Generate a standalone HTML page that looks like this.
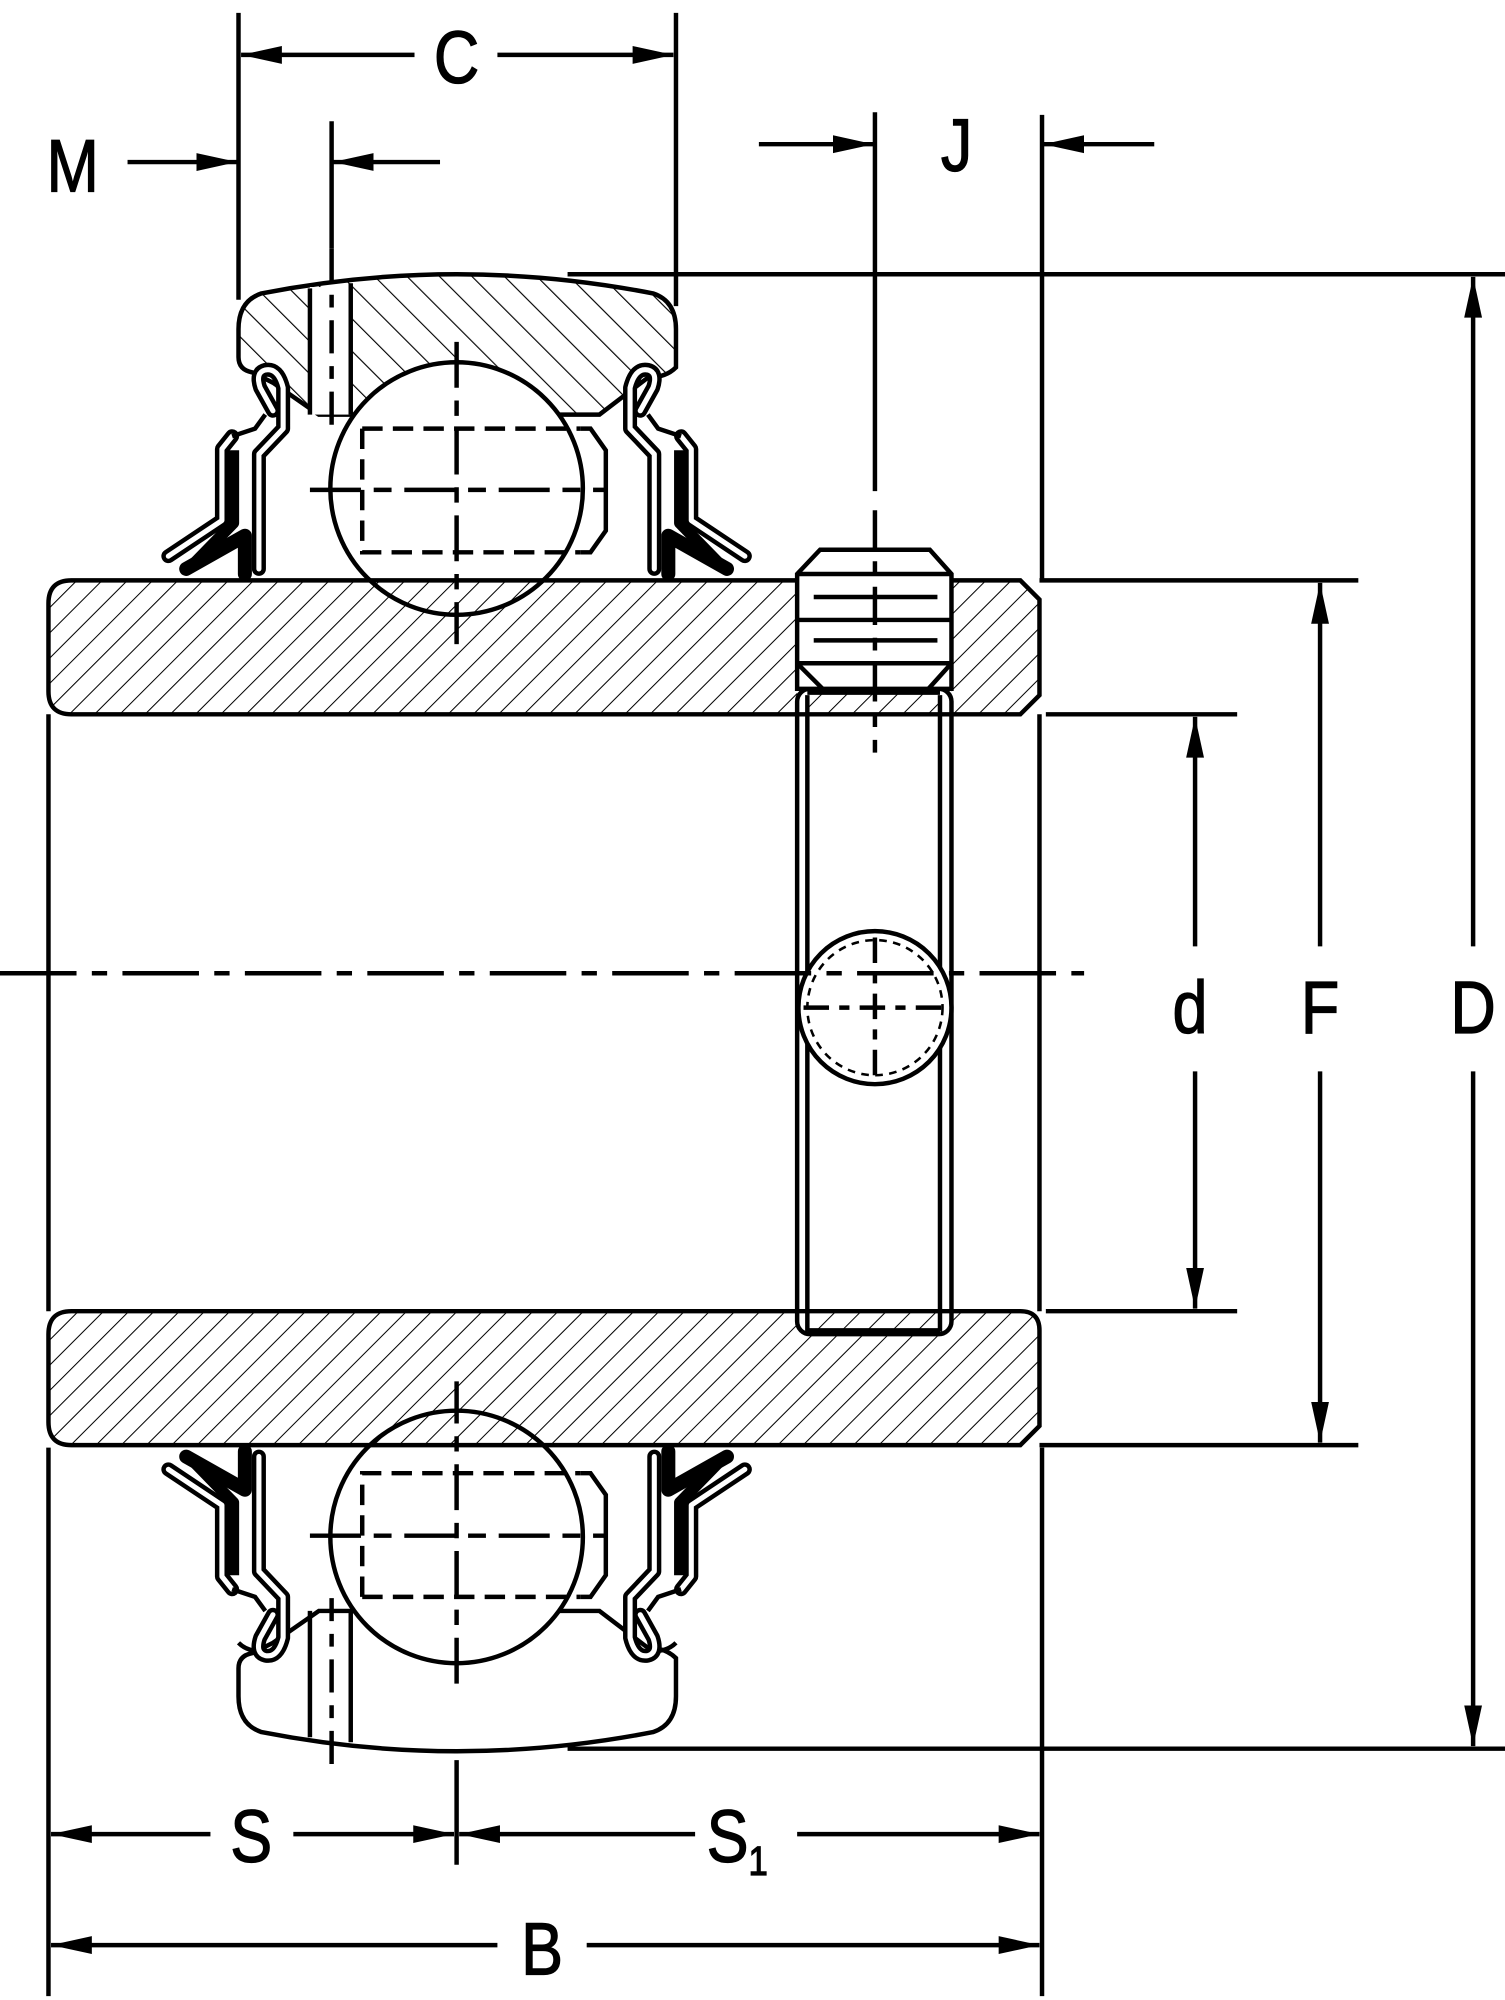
<!DOCTYPE html>
<html><head><meta charset="utf-8"><style>html,body{margin:0;padding:0;background:#fff}svg{display:block}</style></head>
<body>
<svg width="1505" height="2000" viewBox="0 0 1180 1568" xmlns="http://www.w3.org/2000/svg" font-family="Liberation Sans, sans-serif">
<defs>
<pattern id="h1" width="14" height="14" patternUnits="userSpaceOnUse" patternTransform="rotate(45)"><line x1="0" y1="0" x2="0" y2="14" stroke="#000" stroke-width="1.6"/></pattern>
<pattern id="h2" width="18" height="18" patternUnits="userSpaceOnUse" patternTransform="rotate(-45)"><line x1="0" y1="0" x2="0" y2="18" stroke="#000" stroke-width="1.8"/></pattern>
<marker id="ae" markerUnits="userSpaceOnUse" markerWidth="34" markerHeight="16" refX="32" refY="8" orient="auto"><path d="M0,1 L32,8 L0,15 Z" fill="#000"/></marker>
<marker id="as" markerUnits="userSpaceOnUse" markerWidth="34" markerHeight="16" refX="0" refY="8" orient="auto"><path d="M32,1 L0,8 L32,15 Z" fill="#000"/></marker>
<g id="seal">
  <path d="M192,450 L192,420 L146,446" fill="none" stroke="#000" stroke-width="11" stroke-linecap="round" stroke-linejoin="round"/>
  <path d="M182,342 L174,352 L174,408 L132,436" fill="none" stroke="#000" stroke-width="11" stroke-linecap="round" stroke-linejoin="round"/>
  <path d="M182,342 L174,352 L174,408 L132,436" fill="none" stroke="#fff" stroke-width="4" stroke-linecap="round" stroke-linejoin="round"/>
  <path d="M183,353 L183,410 L148,446" fill="none" stroke="#000" stroke-width="9" stroke-linejoin="round"/>
  <path d="M203,446 L203,356 L222,336 L222,304 Q218,288 208,290 Q200,292 204,304 L214,322" fill="none" stroke="#000" stroke-width="11" stroke-linecap="round" stroke-linejoin="round"/>
  <path d="M203,446 L203,356 L222,336 L222,304 Q218,288 208,290 Q200,292 204,304 L214,322" fill="none" stroke="#fff" stroke-width="4" stroke-linecap="round" stroke-linejoin="round"/>
  <path d="M182,342 L200,336 L208,325" fill="none" stroke="#000" stroke-width="3.5"/>
</g>
<g id="ballset">
  <circle cx="358" cy="383" r="99" fill="#fff" stroke="#000" stroke-width="3.5"/>
  <path d="M455,336 L463,336 L475,353 L475,416 L463,433 L455,433" fill="none" stroke="#000" stroke-width="3.5"/>
  <path d="M284,336 L455,336 M284,336 L284,433 L455,433" fill="none" stroke="#000" stroke-width="3.5" stroke-dasharray="16,8"/>
  <line x1="243" y1="384" x2="475" y2="384" stroke="#000" stroke-width="3.5" stroke-dasharray="40,10,14,10"/>
  <line x1="358" y1="268" x2="358" y2="505" stroke="#000" stroke-width="3.5" stroke-dasharray="36,10,12,10"/>
</g>
</defs>

<g transform="translate(0,0)">
<path d="M187,258 Q187,236 205,230 Q358,200 512,230 Q530,236 530,258 L530,288 Q522,296 508,296 L470,325 L250,325 L214,300 L198,292 Q187,290 187,280 Z" fill="url(#h2)" stroke="#000" stroke-width="3.5"/>
<rect x="243" y="225" width="32" height="100" fill="#fff"/>
<line x1="243" y1="226" x2="243" y2="325" stroke="#000" stroke-width="3.5"/>
<line x1="275" y1="222" x2="275" y2="325" stroke="#000" stroke-width="3.5"/>
<line x1="260" y1="195" x2="260" y2="335" stroke="#000" stroke-width="3.5" stroke-dasharray="26,10,10,10"/>
<use href="#ballset"/>
<use href="#seal"/>
<use href="#seal" transform="translate(716,0) scale(-1,1)"/>
</g>

<g transform="translate(0,1588) scale(1,-1)">
<path d="M187,258 Q187,236 205,230 Q358,200 512,230 Q530,236 530,258 L530,288 Q522,296 508,296 L470,325 L250,325 L214,300 L198,292 Q187,290 187,280 Z" fill="#fff" stroke="#000" stroke-width="3.5"/>
<path d="M187,300 Q195,292 208,294 M530,300 Q522,292 508,294" fill="none" stroke="#000" stroke-width="3.5"/>
<line x1="243" y1="226" x2="243" y2="325" stroke="#000" stroke-width="3.5"/>
<line x1="275" y1="222" x2="275" y2="325" stroke="#000" stroke-width="3.5"/>
<line x1="260" y1="205" x2="260" y2="335" stroke="#000" stroke-width="3.5" stroke-dasharray="26,10,10,10"/>
<use href="#ballset"/>
<use href="#seal"/>
<use href="#seal" transform="translate(716,0) scale(-1,1)"/>
</g>

<path d="M56,455 L800,455 L815,470 L815,545 L800,560 L56,560 Q38,560 38,542 L38,473 Q38,455 56,455 Z" fill="url(#h1)" stroke="#000" stroke-width="3.5"/>
<path d="M56,1028 L800,1028 Q815,1028 815,1043 L815,1118 L800,1133 L56,1133 Q38,1133 38,1115 L38,1046 Q38,1028 56,1028 Z" fill="url(#h1)" stroke="#000" stroke-width="3.5"/>
<line x1="38" y1="560" x2="38" y2="1028" stroke="#000" stroke-width="3.5"/>
<line x1="815" y1="560" x2="815" y2="1028" stroke="#000" stroke-width="3.5"/>

<rect x="625" y="452" width="121" height="108" fill="#fff"/>
<rect x="625" y="540" width="121" height="506" rx="10" fill="#fff" stroke="#000" stroke-width="3.5"/>
<rect x="633" y="542" width="104" height="18" fill="url(#h1)"/>
<rect x="633" y="1028" width="104" height="16" fill="url(#h1)"/>
<line x1="625" y1="560" x2="746" y2="560" stroke="#000" stroke-width="3.5"/>
<line x1="625" y1="1028" x2="746" y2="1028" stroke="#000" stroke-width="3.5"/>
<line x1="633" y1="545" x2="633" y2="1044" stroke="#000" stroke-width="3.5"/>
<line x1="737" y1="545" x2="737" y2="1044" stroke="#000" stroke-width="3.5"/>
<line x1="633" y1="543" x2="737" y2="543" stroke="#000" stroke-width="3.5"/>
<line x1="633" y1="1043" x2="737" y2="1043" stroke="#000" stroke-width="3.5"/>
<path d="M625,450 L643,431 L729,431 L746,450 L746,540 L625,540 Z" fill="#fff" stroke="#000" stroke-width="3.5"/>
<line x1="625" y1="450" x2="746" y2="450" stroke="#000" stroke-width="3.5"/>
<line x1="625" y1="486" x2="746" y2="486" stroke="#000" stroke-width="3.5"/>
<line x1="625" y1="520" x2="746" y2="520" stroke="#000" stroke-width="3.5"/>
<line x1="638" y1="468" x2="735" y2="468" stroke="#000" stroke-width="3.5"/>
<line x1="638" y1="502" x2="735" y2="502" stroke="#000" stroke-width="3.5"/>
<path d="M625,520 L646,541 M746,520 L727,541" stroke="#000" stroke-width="3.5"/>
<circle cx="686" cy="790" r="60" fill="#fff" stroke="#000" stroke-width="3.5"/>
<circle cx="686" cy="790" r="53" fill="none" stroke="#000" stroke-width="2" stroke-dasharray="6,5"/>
<line x1="686" y1="735" x2="686" y2="845" stroke="#000" stroke-width="3.5" stroke-dasharray="20,8,8,8"/>
<line x1="630" y1="790" x2="742" y2="790" stroke="#000" stroke-width="3.5" stroke-dasharray="20,8,8,8"/>

<line x1="0" y1="763" x2="850" y2="763" stroke="#000" stroke-width="3.5" stroke-dasharray="60,12,12,12"/>

<g stroke="#000" stroke-width="3.5" fill="none">
<line x1="187" y1="10" x2="187" y2="235"/>
<line x1="530" y1="10" x2="530" y2="240"/>
<line x1="260" y1="95" x2="260" y2="195"/>
<line x1="686" y1="88" x2="686" y2="385"/>
<line x1="686" y1="400" x2="686" y2="590" stroke-dasharray="30,10,10,10"/>
<line x1="817" y1="90" x2="817" y2="455"/>
<line x1="817" y1="1135" x2="817" y2="1565"/>
<line x1="38" y1="1135" x2="38" y2="1565"/>
<line x1="358" y1="1380" x2="358" y2="1462"/>
<line x1="445" y1="215" x2="1180" y2="215"/>
<line x1="445" y1="1371" x2="1180" y2="1371"/>
<line x1="815" y1="455" x2="1065" y2="455"/>
<line x1="815" y1="1133" x2="1065" y2="1133"/>
<line x1="820" y1="560" x2="970" y2="560"/>
<line x1="820" y1="1028" x2="970" y2="1028"/>
</g>
<g stroke="#000" stroke-width="3.5" fill="none">
<line x1="189" y1="43" x2="325" y2="43" marker-start="url(#as)"/>
<line x1="390" y1="43" x2="528" y2="43" marker-end="url(#ae)"/>
<line x1="100" y1="127" x2="186" y2="127" marker-end="url(#ae)"/>
<line x1="345" y1="127" x2="261" y2="127" marker-end="url(#ae)"/>
<line x1="595" y1="113" x2="685" y2="113" marker-end="url(#ae)"/>
<line x1="905" y1="113" x2="818" y2="113" marker-end="url(#ae)"/>
<line x1="1155" y1="217" x2="1155" y2="742" marker-start="url(#as)"/>
<line x1="1155" y1="840" x2="1155" y2="1369" marker-end="url(#ae)"/>
<line x1="1035" y1="457" x2="1035" y2="742" marker-start="url(#as)"/>
<line x1="1035" y1="840" x2="1035" y2="1131" marker-end="url(#ae)"/>
<line x1="937" y1="562" x2="937" y2="742" marker-start="url(#as)"/>
<line x1="937" y1="840" x2="937" y2="1026" marker-end="url(#ae)"/>
<line x1="40" y1="1438" x2="165" y2="1438" marker-start="url(#as)"/>
<line x1="230" y1="1438" x2="356" y2="1438" marker-end="url(#ae)"/>
<line x1="360" y1="1438" x2="545" y2="1438" marker-start="url(#as)"/>
<line x1="625" y1="1438" x2="815" y2="1438" marker-end="url(#ae)"/>
<line x1="40" y1="1525" x2="390" y2="1525" marker-start="url(#as)"/>
<line x1="460" y1="1525" x2="815" y2="1525" marker-end="url(#ae)"/>
</g>
<g font-size="58" text-anchor="middle" fill="#000" stroke="#000" stroke-width="1">
<text transform="translate(358,65) scale(0.85,1)">C</text>
<text transform="translate(57,150) scale(0.85,1)">M</text>
<text transform="translate(750,134) scale(0.85,1)">J</text>
<text transform="translate(933,810) scale(0.85,1)">d</text>
<text transform="translate(1035,810) scale(0.85,1)">F</text>
<text transform="translate(1155,810) scale(0.85,1)">D</text>
<text transform="translate(197,1460) scale(0.85,1)">S</text>
<text transform="translate(578,1460) scale(0.85,1)">S<tspan font-size="32" dy="10">1</tspan></text>
<text transform="translate(425,1548) scale(0.85,1)">B</text>
</g>
</svg>
</body></html>
